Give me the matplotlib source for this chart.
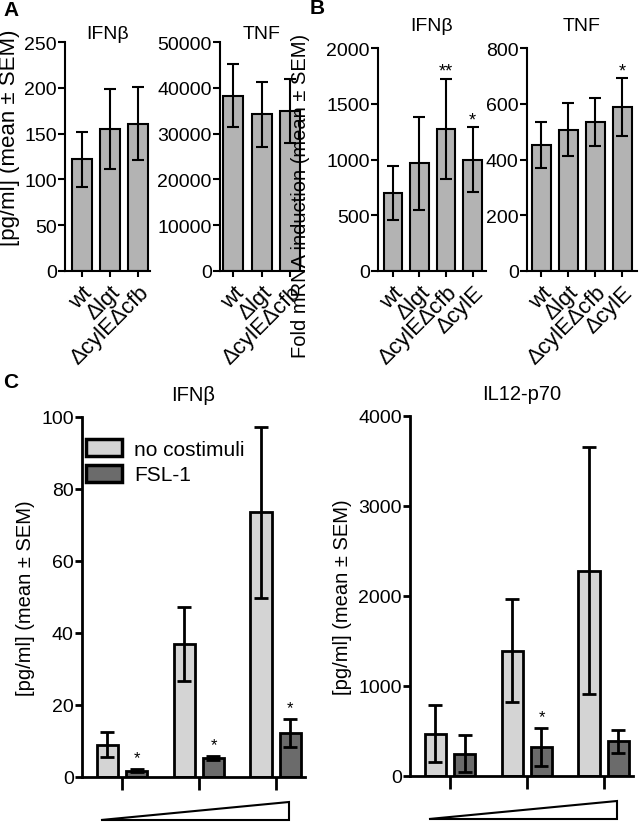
#! /usr/bin/env python3

import numpy as np
import matplotlib.pyplot as plt
from matplotlib.patches import Polygon

plt.rcParams['font.family'] = ['Liberation Sans', 'DejaVu Sans']

# Panel A - cytokine release
strainsA = ["wt", "Δlgt", "ΔcylEΔcfb"]
ifnA = [122, 155, 161]
ifnA_sem = [30, 44, 40]
tnfA = [38300, 34200, 35000]
tnfA_sem = [6900, 7150, 6950]

# Panel B - fold mRNA induction
strainsB = ["wt", "Δlgt", "ΔcylEΔcfb", "ΔcylE"]
ifnB = [700, 965, 1275, 998]
ifnB_sem = [245, 420, 450, 290]
ifnB_sig = ["", "", "**", "*"]
tnfB = [452, 507, 534, 588]
tnfB_sem = [83, 96, 86, 103]
tnfB_sig = ["", "", "", "*"]

# Panel C - dose series, no costimuli vs FSL-1
ifnC_none = [9, 37, 73.5]
ifnC_none_sem = [3.5, 10.3, 23.7]
ifnC_fsl = [1.8, 5.3, 12.3]
ifnC_fsl_sem = [0.5, 0.5, 3.9]
ifnC_sig = ["*", "*", "*"]
il12_none = [470, 1394, 2281]
il12_none_sem = [317, 573, 1373]
il12_fsl = [248, 322, 384]
il12_fsl_sem = [209, 212, 130]
il12_sig = ["", "*", ""]

W, H = 641, 828
fig = plt.figure(figsize=(W / 100, H / 100), dpi=100)


def ax_px(l, t, r, b):
    return fig.add_axes([l / W, 1 - b / H, (r - l) / W, (b - t) / H])


def style(ax, fs=14):
    ax.spines[['top', 'right']].set_visible(False)
    for s in ['left', 'bottom']:
        ax.spines[s].set_linewidth(1.5)
    ax.tick_params(axis='y', width=1.5, length=5, labelsize=fs, pad=1)
    ax.tick_params(axis='x', width=1.5, length=4)


def top_panel(ax, labels, vals, sems, ymax, step, title, xlim, tpad, sig=None):
    x = np.arange(len(vals))
    ax.bar(x, vals, width=0.7, color='#b3b3b3', edgecolor='black', linewidth=1.5,
           yerr=sems, capsize=4, error_kw=dict(elinewidth=1.5, capthick=1.5))
    ax.set_ylim(0, ymax)
    ax.set_yticks(np.arange(0, ymax + 1, step))
    ax.set_xlim(*xlim)
    ax.set_xticks(x)
    ax.set_xticklabels(labels, rotation=45, ha='right', rotation_mode='anchor',
                       fontsize=16)
    ax.set_title(title, fontsize=14, pad=tpad)
    if sig:
        for xi, v, e, s in zip(x, vals, sems, sig):
            if s:
                ax.text(xi, v + e + ymax * 0.035, s, ha='center', va='center', fontsize=13)
    style(ax)


axA1 = ax_px(65, 43, 150, 272)
top_panel(axA1, strainsA, ifnA, ifnA_sem, 250, 50, "IFNβ", (-0.6, 2.43), 2.5)
axA1.set_ylabel("[pg/ml] (mean ± SEM)", fontsize=16)
axA1.yaxis.set_label_coords(-0.53, 0.585)
axA2 = ax_px(220, 43, 303, 272)
top_panel(axA2, strainsA, tnfA, tnfA_sem, 50000, 10000, "TNF", (-0.46, 2.45), 2.5)

axB1 = ax_px(378, 49, 486, 272)
top_panel(axB1, strainsB, ifnB, ifnB_sem, 2000, 500, "IFNβ", (-0.56, 3.5), 13, ifnB_sig)
axB1.set_ylabel("Fold mRNA induction (mean ± SEM)", fontsize=14.5)
axB1.yaxis.set_label_coords(-0.63, 0.34)
axB2 = ax_px(527, 49, 637, 272)
top_panel(axB2, strainsB, tnfB, tnfB_sem, 800, 200, "TNF", (-0.52, 3.55), 13, tnfB_sig)


def bottom_panel(ax, none, none_sem, fsl, fsl_sem, sig, ymax, step, title):
    x = np.arange(len(none))
    ek = dict(elinewidth=2, capthick=2)
    ax.bar(x - 0.19, none, width=0.28, color='#d4d4d4', edgecolor='black', linewidth=2,
           yerr=none_sem, capsize=5, error_kw=ek, label="no costimuli")
    ax.bar(x + 0.19, fsl, width=0.28, color='#6b6b6b', edgecolor='black', linewidth=2,
           yerr=fsl_sem, capsize=5, error_kw=ek, label="FSL-1")
    for xi, v, e, s in zip(x, fsl, fsl_sem, sig):
        if s:
            ax.text(xi + 0.19, v + e + ymax * 0.01, s, ha='center', va='bottom', fontsize=12)
    ax.set_ylim(0, ymax)
    ax.set_yticks(np.arange(0, ymax + 1, step))
    ax.set_xlim(-0.52, 2.38)
    ax.set_xticks(x)
    ax.set_xticklabels([])
    ax.set_title(title, fontsize=14.5, pad=12)
    ax.set_ylabel("[pg/ml] (mean ± SEM)", fontsize=14.5, labelpad=4)
    style(ax)
    ax.spines[['left', 'bottom']].set_linewidth(2)
    ax.tick_params(axis='x', width=2, length=9)
    ax.tick_params(axis='y', width=2, length=5)
    wedge = Polygon([[0.085, -0.12], [0.93, -0.12], [0.93, -0.07]], closed=True,
                    facecolor='white', edgecolor='black', linewidth=1.5,
                    transform=ax.transAxes, clip_on=False)
    ax.add_patch(wedge)


axC1 = ax_px(82, 418, 305, 778)
bottom_panel(axC1, ifnC_none, ifnC_none_sem, ifnC_fsl, ifnC_fsl_sem, ifnC_sig,
             100, 20, "IFNβ")
leg = axC1.legend(loc='upper left', bbox_to_anchor=(0.0, 0.95), frameon=False,
                  fontsize=15, handlelength=1.7, handleheight=0.85,
                  handletextpad=0.6, labelspacing=0.3, borderaxespad=0, borderpad=0.2)
for p in leg.get_patches():
    p.set_linewidth(2.5)

axC2 = ax_px(410, 417, 633, 777)
bottom_panel(axC2, il12_none, il12_none_sem, il12_fsl, il12_fsl_sem, il12_sig,
             4000, 1000, "IL12-p70")

fig.text(3 / W, 1 - 11 / H, "A", fontsize=15, fontweight='bold', va='center')
fig.text(310 / W, 1 - 9 / H, "B", fontsize=15, fontweight='bold', va='center')
fig.text(3 / W, 1 - 382 / H, "C", fontsize=15, fontweight='bold', va='center')

fig.savefig("out.png", dpi=100)
